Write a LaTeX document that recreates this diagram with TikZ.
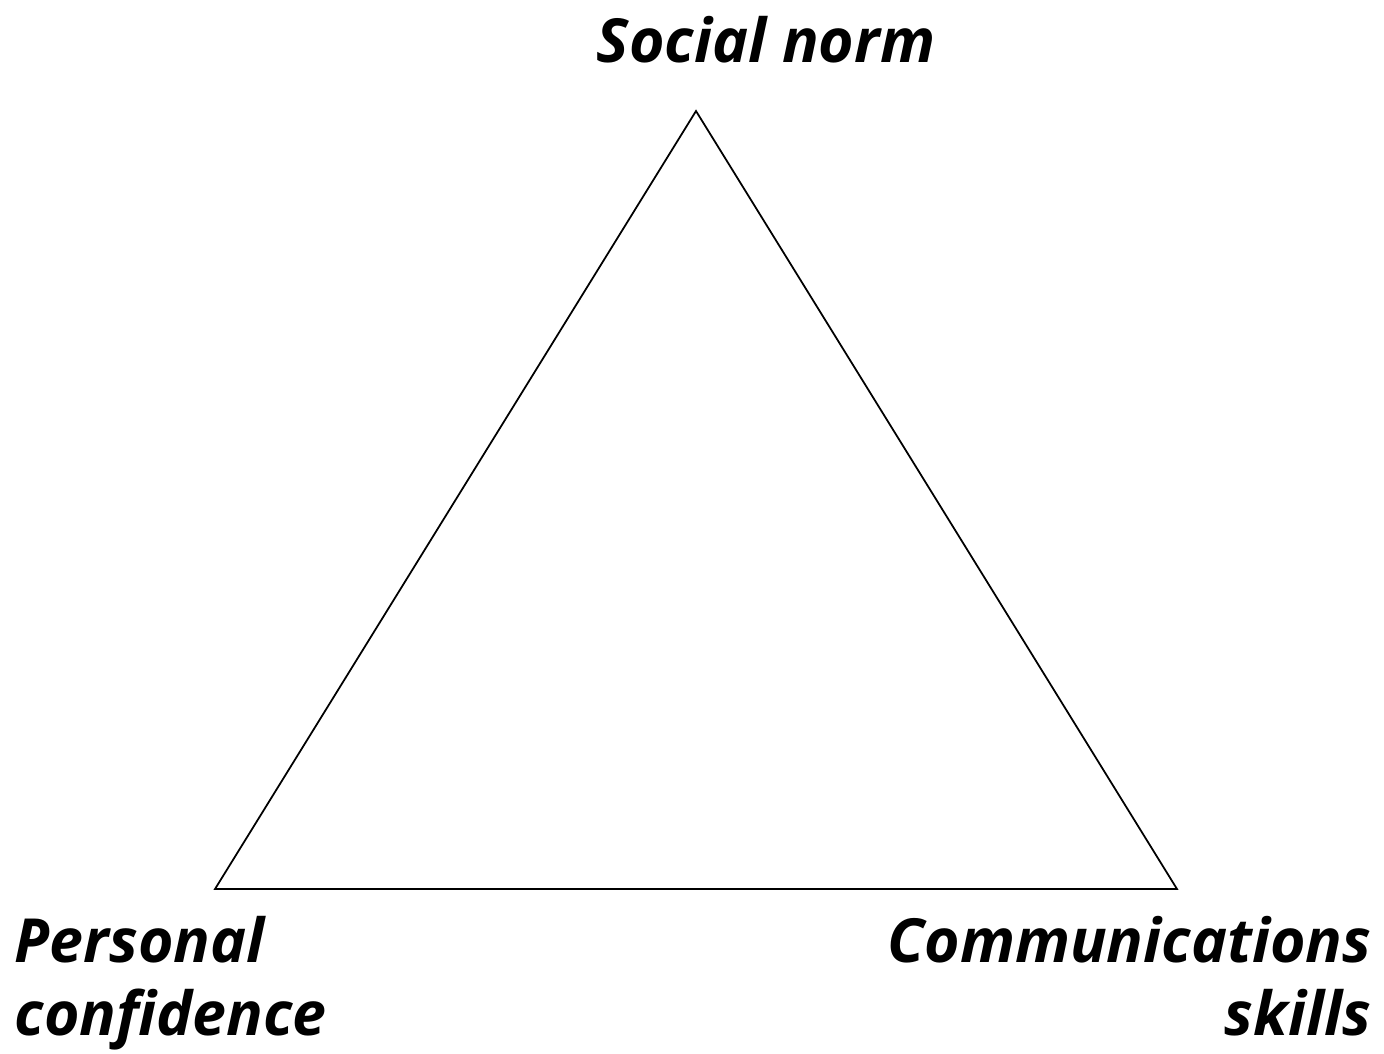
\documentclass[tikz,border=0pt]{standalone}
\usepackage{fontspec}
\setmainfont{Open Sans}
\usetikzlibrary{positioning}

\begin{document}
\begin{tikzpicture}[x=0.01cm, y=-0.01cm,
  corner label/.style={font=\fontsize{17.3}{20.5}\selectfont\bfseries\itshape, inner sep=0pt}]
\useasboundingbox (0,0) rectangle (1384,1053);

% corners
\coordinate (norm) at (696,111);
\coordinate (confidence) at (215,889);
\coordinate (skills) at (1177,889);

% triangle
\draw[line width=0.5pt] (norm) -- (skills) -- (confidence) -- cycle;

% labels
\node[corner label, anchor=base] (normlabel) at (766,62) {Social norm};
\node[corner label, anchor=base west, align=left] (confidencelabel) at (14,1035) {Personal\\confidence};
\node[corner label, anchor=base east, align=right] (skillslabel) at (1372,1035) {Communications\\skills};
\end{tikzpicture}
\end{document}
